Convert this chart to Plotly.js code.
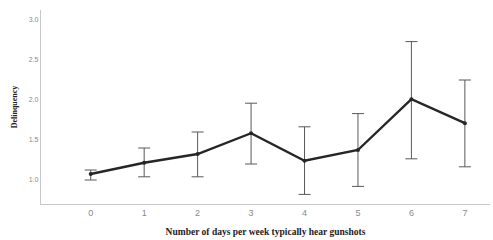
<!DOCTYPE html>
<html><head><meta charset="utf-8">
<script src="https://cdn.plot.ly/plotly-3.0.1.min.js"></script>
<style>html,body{margin:0;padding:0;background:#fff}#chart{width:493px;height:240px}</style>
</head><body><div id="chart"></div>
<script>
const days = [0, 1, 2, 3, 4, 5, 6, 7];
const meanDelinquency = [1.075, 1.215, 1.325, 1.585, 1.24, 1.375, 2.01, 1.71];
const ciUpper = [1.125, 1.40, 1.60, 1.96, 1.665, 1.83, 2.73, 2.25];
const ciLower = [1.00, 1.04, 1.04, 1.20, 0.82, 0.92, 1.265, 1.165];
const yTicks = [1.0, 1.5, 2.0, 2.5, 3.0];
const yTickLabels = ['1.0', '1.5', '2.0', '2.5', '3.0'];

const plus = meanDelinquency.map((m, i) => ciUpper[i] - m);
const minus = meanDelinquency.map((m, i) => m - ciLower[i]);

Plotly.newPlot('chart', [{
  x: days, y: meanDelinquency, type: 'scatter', mode: 'lines+markers',
  line: {color: '#262626', width: 2.4},
  marker: {color: '#262626', size: 4},
  error_y: {type: 'data', symmetric: false, array: plus, arrayminus: minus,
            color: '#595959', thickness: 1, width: 6},
  hoverinfo: 'none'
}], {
  width: 493, height: 240,
  margin: {l: 41, r: 3, t: 10, b: 36},
  paper_bgcolor: '#fff', plot_bgcolor: '#fff',
  showlegend: false,
  xaxis: {range: [-0.93, 7.47], tickvals: days, ticktext: days.map(String),
          showgrid: false, zeroline: false, showline: true, linecolor: '#c8c8c8', linewidth: 1.2,
          ticks: '', ticklen: 0, tickfont: {family: 'Liberation Sans, Arial', size: 9, color: '#8a8a8a'},
          title: {text: '<b>Number of days per week typically hear gunshots</b>', standoff: 11,
                  font: {family: 'Liberation Serif, Times New Roman', size: 9.5, color: '#222'}}},
  yaxis: {range: [0.7, 3.125], tickvals: yTicks, ticktext: yTickLabels,
          showgrid: false, zeroline: false, showline: true, linecolor: '#c8c8c8', linewidth: 1.2,
          ticks: '', tickfont: {family: 'Liberation Sans, Arial', size: 7, color: '#8a8a8a'},
          title: {text: '<b>Delinquency</b>', standoff: 9,
                  font: {family: 'Liberation Serif, Times New Roman', size: 8, color: '#222'}}},
  font: {family: 'Liberation Sans, Arial'}
}, {staticPlot: true, displayModeBar: false});
</script></body></html>
